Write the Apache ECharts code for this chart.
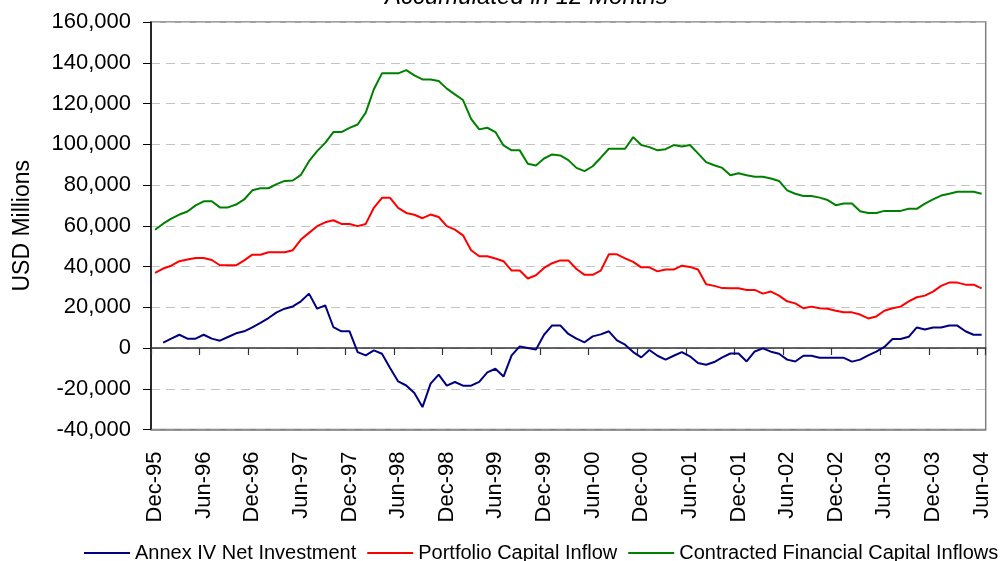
<!DOCTYPE html>
<html>
<head>
<meta charset="utf-8">
<script src="https://cdn.jsdelivr.net/npm/echarts@6/dist/echarts.min.js"></script>
<style>
html,body{margin:0;padding:0;background:#fff;}
#chart{width:1003px;height:561px;}
</style>
</head>
<body>
<div id="chart"></div>
<script>
const categories = [
'Dec-95',
'Jan-96','Feb-96','Mar-96','Apr-96','May-96','Jun-96','Jul-96','Aug-96','Sep-96','Oct-96','Nov-96','Dec-96',
'Jan-97','Feb-97','Mar-97','Apr-97','May-97','Jun-97','Jul-97','Aug-97','Sep-97','Oct-97','Nov-97','Dec-97',
'Jan-98','Feb-98','Mar-98','Apr-98','May-98','Jun-98','Jul-98','Aug-98','Sep-98','Oct-98','Nov-98','Dec-98',
'Jan-99','Feb-99','Mar-99','Apr-99','May-99','Jun-99','Jul-99','Aug-99','Sep-99','Oct-99','Nov-99','Dec-99',
'Jan-00','Feb-00','Mar-00','Apr-00','May-00','Jun-00','Jul-00','Aug-00','Sep-00','Oct-00','Nov-00','Dec-00',
'Jan-01','Feb-01','Mar-01','Apr-01','May-01','Jun-01','Jul-01','Aug-01','Sep-01','Oct-01','Nov-01','Dec-01',
'Jan-02','Feb-02','Mar-02','Apr-02','May-02','Jun-02','Jul-02','Aug-02','Sep-02','Oct-02','Nov-02','Dec-02',
'Jan-03','Feb-03','Mar-03','Apr-03','May-03','Jun-03','Jul-03','Aug-03','Sep-03','Oct-03','Nov-03','Dec-03',
'Jan-04','Feb-04','Mar-04','Apr-04','May-04','Jun-04'
];

const annexIV = [
null,2600,4600,6500,4600,4600,6500,4600,3600,5400,
7200,8200,10100,12300,14700,17500,19300,20400,22900,26700,
19300,20900,10300,8200,8200,-2000,-3600,-1200,-2800,-9800,
-16400,-18400,-22100,-29000,-17500,-13100,-18500,-16700,-18500,-18500,
-16600,-12000,-10200,-14000,-3600,800,0,-800,6500,11100,
11100,6900,4600,2800,5700,6700,8200,3700,1600,-2000,
-4600,-1000,-3800,-5700,-3800,-2000,-4100,-7400,-8200,-6900,
-4600,-2700,-2700,-6600,-1700,-200,-1800,-2800,-5700,-6600,
-3800,-3800,-4800,-4800,-4800,-4800,-6700,-5700,-3600,-1800,
500,4400,4400,5500,10100,9100,10100,10100,11000,11000,
8200,6500,6500
];

const portfolio = [
36900,39000,40400,42600,43400,44200,44200,43200,40600,40600,
40600,43000,45800,45800,47000,47000,47000,48000,53200,56500,
59800,61700,62700,60900,60900,59800,60900,68800,73700,73700,
68800,66300,65400,63700,65500,64300,59800,58100,55300,48000,
45000,45000,43900,42600,38000,38000,34100,35700,39300,41600,
43000,43000,38800,35900,35900,38000,46000,46000,44000,42300,
39600,39600,37600,38500,38500,40400,39800,38500,31300,30500,
29400,29300,29300,28500,28500,26700,27700,25700,22900,21900,
19500,20300,19500,19300,18300,17500,17500,16400,14500,15500,
18300,19500,20300,22900,24900,25700,27700,30500,32100,32100,
31100,31100,29300
];

const contracted = [
58000,61000,63500,65500,67000,70000,72000,72000,69000,69000,
70400,72900,77400,78400,78400,80400,82000,82200,85000,91700,
96600,100700,106000,106000,108000,109700,115500,127000,134800,134800,
134800,136400,133800,131800,131800,131000,127300,124500,121700,112500,
107300,108100,106000,99400,97000,97000,90400,89600,93000,95000,
94500,92200,88400,86800,89200,93400,97800,97800,97800,103500,
99600,98600,97000,97600,99600,98900,99600,95500,91200,89700,
88400,84800,85800,84800,84000,84000,83200,82000,77400,75700,
74600,74600,73800,72600,70100,70900,70900,67100,66300,66300,
67300,67300,67300,68300,68300,70900,72900,74800,75700,76700,
76700,76700,75700
];

const seriesNames = ['Annex IV Net Investment','Portfolio Capital Inflow','Contracted Financial Capital Inflows'];
const seriesColors = ['#000080','#ff0000','#008000'];
const titleText = 'Accumulated in 12 Months';
const yAxisTitle = 'USD Millions';

const FONT = "'Liberation Sans', Arial, Helvetica, sans-serif";
const chart = echarts.init(document.getElementById('chart'), null, {renderer:'canvas'});

const seriesData = [annexIV, portfolio, contracted];

chart.setOption({
  animation: false,
  backgroundColor: '#ffffff',
  textStyle: {fontFamily: FONT},
  title: {
    text: titleText,
    left: 385, top: -15, padding: 0,
    textStyle: {fontFamily: FONT, fontSize: 24, fontStyle: 'italic', fontWeight: 'normal', color: '#000'}
  },
  legend: {
    left: 83, top: 543, padding: 0,
    itemWidth: 46, itemHeight: 14, itemGap: 10,
    itemStyle: {opacity: 0, borderWidth: 0},
    lineStyle: {width: 2},
    textStyle: {fontFamily: FONT, fontSize: 20, color: '#000'},
    data: seriesNames
  },
  grid: {
    left: 151, right: 17.3, top: 22, bottom: 131.5,
    show: true, borderColor: '#808080', borderWidth: 1.5, backgroundColor: 'transparent'
  },
  xAxis: [
    {
      type: 'category', data: categories, boundaryGap: true, position: 'bottom',
      axisLine: {show: true, onZero: false, lineStyle: {color: '#808080', width: 1.5}},
      axisTick: {show: false},
      axisLabel: {interval: 5, rotate: 90, margin: 22, fontSize: 22, color: '#000', fontFamily: FONT},
      splitLine: {show: false}
    },
    {
      type: 'category', data: categories, boundaryGap: true, position: 'bottom',
      axisLine: {show: true, onZero: true, lineStyle: {color: '#333', width: 1.5}},
      axisTick: {show: true, interval: 5, length: 7, lineStyle: {color: '#333', width: 1.2}},
      axisLabel: {show: false},
      splitLine: {show: false}
    }
  ],
  yAxis: {
    type: 'value', min: -40000, max: 160000, interval: 20000,
    name: yAxisTitle, nameLocation: 'middle', nameRotate: 90, nameGap: 117,
    nameTextStyle: {fontFamily: FONT, fontSize: 23, color: '#000'},
    axisLine: {show: true, lineStyle: {color: '#000', width: 1.5}},
    axisTick: {show: true, length: 8, lineStyle: {color: '#000', width: 1}},
    axisLabel: {margin: 20, fontSize: 22, color: '#000', fontFamily: FONT,
      formatter: v => v.toLocaleString('en-US')},
    splitLine: {show: true, lineStyle: {color: '#c4c4c4', width: 1, type: [9, 6]}}
  },
  series: seriesNames.map((n, i) => ({
    name: n, type: 'line', xAxisIndex: 0, data: seriesData[i],
    symbol: 'none', color: seriesColors[i],
    lineStyle: {color: seriesColors[i], width: 2},
    z: 3
  }))
});
</script>
</body>
</html>
